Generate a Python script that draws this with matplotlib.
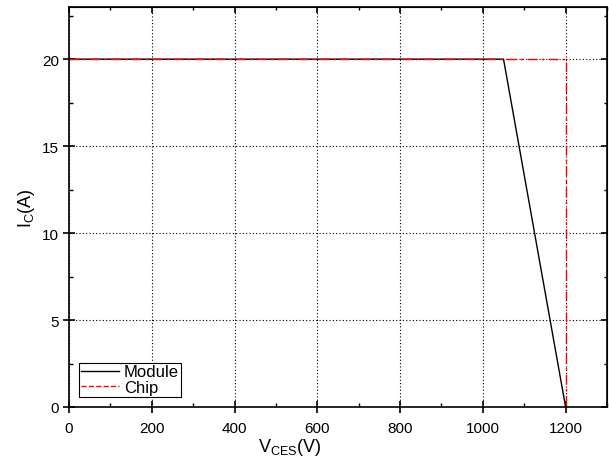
import matplotlib
matplotlib.use('Agg')
import matplotlib.pyplot as plt
from matplotlib.lines import Line2D
from matplotlib.ticker import MultipleLocator

plt.rcParams['font.family'] = ['Liberation Sans', 'DejaVu Sans']

# Datos
module_v = [0, 1050, 1200]
module_i = [20, 20, 0]
chip_v = [0, 1200, 1200]
chip_i = [20, 20, 0]

fig = plt.figure(figsize=(6.09, 4.64), dpi=100)
ax = fig.add_axes([0.1133, 0.1207, 0.8834, 0.8621])

ax.plot(module_v, module_i, color='black', lw=1.0)
ax.plot(chip_v, chip_i, color='red', lw=1.0, dashes=(7, 3, 2, 3))

ax.set_xlim(0, 1300)
ax.set_ylim(0, 23)
ax.xaxis.set_major_locator(MultipleLocator(200))
ax.xaxis.set_minor_locator(MultipleLocator(100))
ax.yaxis.set_major_locator(MultipleLocator(5))
ax.yaxis.set_minor_locator(MultipleLocator(2.5))
ax.grid(True, which='major', color='black', linestyle=(0, (1, 2)), lw=0.8)
ax.tick_params(which='major', direction='inout', length=8, width=1.2,
               labelsize=11, pad=3)
ax.tick_params(axis='x', which='major', pad=6)
ax.tick_params(which='minor', direction='in', length=3, width=1.0)
for s in ax.spines.values():
    s.set_linewidth(1.2)

# ticks interiores arriba y a la derecha
top = ax.secondary_xaxis('top')
top.xaxis.set_major_locator(MultipleLocator(200))
top.xaxis.set_minor_locator(MultipleLocator(100))
top.tick_params(which='major', direction='in', length=4, width=1.2, labeltop=False)
top.tick_params(which='minor', direction='in', length=2, width=1.0)
right = ax.secondary_yaxis('right')
right.yaxis.set_major_locator(MultipleLocator(5))
right.yaxis.set_minor_locator(MultipleLocator(2.5))
right.tick_params(which='major', direction='in', length=4, width=1.2, labelright=False)
right.tick_params(which='minor', direction='in', length=2, width=1.0)

ax.set_xlabel('V$_{\\mathregular{CES}}$(V)', fontsize=13, labelpad=0)
ax.xaxis.set_label_coords(0.41, -0.072)
ax.set_ylabel('I$_{\\mathregular{C}}$(A)', fontsize=13, labelpad=4)

handles = [Line2D([], [], color='black', lw=1.0),
           Line2D([], [], color='red', lw=1.0, linestyle='--')]
leg = ax.legend(handles, ['Module', 'Chip'], loc='lower left', fontsize=12,
                fancybox=False, framealpha=1, edgecolor='black',
                borderpad=0.1, labelspacing=0.05, handlelength=2.3,
                handletextpad=0.3, borderaxespad=0.6)
leg.get_frame().set_linewidth(0.8)

fig.savefig('out.png', dpi=100)
